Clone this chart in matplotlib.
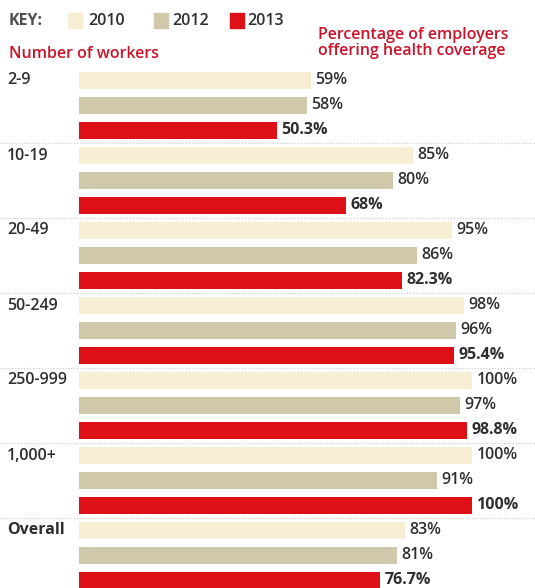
import matplotlib
matplotlib.use('Agg')
import matplotlib.pyplot as plt
from matplotlib.patches import Rectangle
import numpy as np

plt.rcParams['font.family'] = ['Open Sans', 'DejaVu Sans']

# data
groups = ['2-9', '10-19', '20-49', '50-249', '250-999', '1,000+', 'Overall']
years = ['2010', '2012', '2013']
v2010 = [59, 85, 95, 98, 100, 100, 83]
v2012 = [58, 80, 86, 96, 97, 91, 81]
v2013 = [50.3, 68, 82.3, 95.4, 98.8, 100, 76.7]
lab2010 = ['59%', '85%', '95%', '98%', '100%', '100%', '83%']
lab2012 = ['58%', '80%', '86%', '96%', '97%', '91%', '81%']
lab2013 = ['50.3%', '68%', '82.3%', '95.4%', '98.8%', '100%', '76.7%']

colors = ['#f8eed3', '#cfc8aa', '#dc1016']
red_txt = '#c8142a'
dark = '#2e2e2e'

W, H = 535, 588
fig = plt.figure(figsize=(W / 100, H / 100), dpi=100)
fig.patch.set_facecolor('white')

left_px = 79
px_per_pct = 3.93
first_y = 80.5
step = 25.0

ax = fig.add_axes([left_px / W, 0, 1 - left_px / W, 1])
ax.set_xlim(0, (W - left_px) / px_per_pct)
ax.set_ylim((H - first_y) / step, -first_y / step)
ax.axis('off')

series = [(v2010, lab2010), (v2012, lab2012), (v2013, lab2013)]
for g, name in enumerate(groups):
    for k, (vals, labs) in enumerate(series):
        y = g * 3 + k
        ax.barh(y, vals[g], height=0.7, color=colors[k], edgecolor='none')
        ax.text(vals[g] + 1.1, y - 0.02, labs[g], va='center', ha='left',
                fontsize=11.5, color=dark,
                fontweight='bold' if k == 2 else 'semibold')
    ax.text(-left_px / px_per_pct + 7 / px_per_pct, g * 3, name, va='center',
            ha='left', fontsize=11.5, color=dark,
            fontweight='bold' if name == 'Overall' else 'semibold')
    if g > 0:
        ax.plot([-left_px / px_per_pct, (W - left_px) / px_per_pct],
                [g * 3 - 0.5, g * 3 - 0.5], color='#c8c8c8', lw=0.8,
                linestyle=':', clip_on=False)

# header / key
def fx(px):
    return px / W

def fy(px):
    return 1 - px / H

fig.text(fx(9), fy(21), 'KEY:', fontsize=11.5, fontweight='bold', color='#505050',
         va='center', ha='left')
sw_x = [68, 154, 230]
tx_x = [88, 172, 247]
for k, yr in enumerate(years):
    fig.patches.append(Rectangle((fx(sw_x[k]), fy(28)), 14 / W, 15 / H,
                                 transform=fig.transFigure, color=colors[k]))
    fig.text(fx(tx_x[k]), fy(21), yr, fontsize=11.5, fontweight='semibold',
             color=dark, va='center', ha='left')

fig.text(fx(9), fy(54), 'Number of workers', fontsize=11.5, fontweight='semibold',
         color=red_txt, va='center', ha='left')
fig.text(fx(318), fy(35), 'Percentage of employers', fontsize=11.5,
         fontweight='semibold', color=red_txt, va='center', ha='left')
fig.text(fx(318), fy(51), 'offering health coverage', fontsize=11.5,
         fontweight='semibold', color=red_txt, va='center', ha='left')

fig.savefig('out.png', dpi=100)
